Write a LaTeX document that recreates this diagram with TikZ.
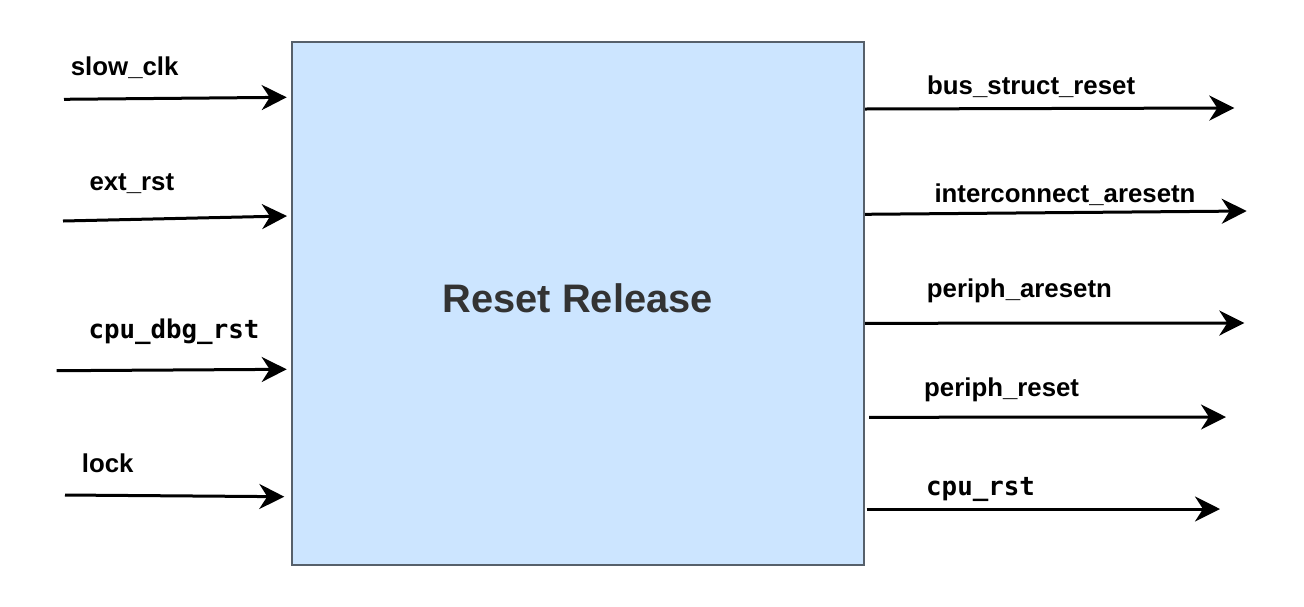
\documentclass[tikz,border=0pt]{standalone}
\usepackage{fontspec}
\setmainfont{Liberation Sans}
\newfontfamily\sigmono{DejaVu Sans Mono}
\usetikzlibrary{arrows.meta}
\definecolor{boxfill}{HTML}{CCE5FF}
\definecolor{boxline}{HTML}{56606B}
\definecolor{titletext}{HTML}{333333}

\begin{document}
\begin{tikzpicture}[x=1pt, y=-1pt, every node/.append style={text=black, inner sep=0pt, font=\fontsize{25.8}{30}\selectfont\bfseries},
	sig/.style={line width=3pt, -{Stealth[length=25pt, width=25pt, inset=8pt]}}]
	\useasboundingbox (0,0) rectangle (1304,606);
	
	\node[draw=boxline, fill=boxfill, line width=1.5pt, minimum width=572, minimum height=523, anchor=north west] (rr) at (291,41) {};
	\node[text=titletext, font=\fontsize{39.8}{46}\selectfont\bfseries] (title) at ([yshift=5pt]rr.center) {Reset Release};
	
	% inputs
	\foreach \i/\xa/\ya/\xb/\yb/\lx/\ly/\l in {1/64/99.3/286.7/97.3/70.7/75.5/slow\_clk, 2/63/221/287/216/89.3/190/ext\_rst, 3/56.7/370.7/286.7/369.3/88.3/338.3/{\sigmono cpu\_dbg\_rst}, 4/65/495/284.3/496.7/81.7/472.7/lock}
	{
		\coordinate (s\i) at (\xa,\ya);
		\coordinate (t\i) at (\xb,\yb);
		\node[anchor=base west] (l\i) at (\lx,\ly) {\l};
		\draw[sig] (s\i) -- (t\i);
	}
	
	% outputs
	\foreach \i/\xa/\ya/\xb/\yb/\lx/\ly/\l in {5/865/109/1234.3/108/927/94/bus\_struct\_reset, 6/865/214.3/1246.7/211/934.3/202.7/interconnect\_aresetn, 7/865/323.3/1244.3/323/926.7/297.5/periph\_aresetn, 8/869/417.3/1226/417/924/396/periph\_reset, 9/866.7/509/1220/509/926/495/{\sigmono cpu\_rst}}
	{
		\coordinate (s\i) at (\xa,\ya);
		\coordinate (t\i) at (\xb,\yb);
		\node[anchor=base west] (l\i) at (\lx,\ly) {\l};
		\draw[sig] (s\i) -- (t\i);
	}
\end{tikzpicture}
\end{document}
